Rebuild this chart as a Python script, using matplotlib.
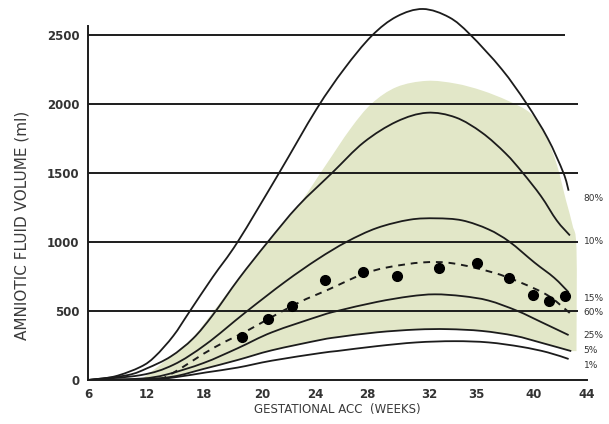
import matplotlib
matplotlib.use("Agg")
import matplotlib.pyplot as plt
from matplotlib.path import Path
from matplotlib.patches import PathPatch

plt.rcParams['font.family'] = ['DejaVu Sans']

# Percentile curves: gestational age (weeks) vs amniotic fluid volume (ml)
p80_w = [6, 8, 10, 11.1, 12.5, 13.7, 15.5, 17.4, 20.5, 23.4, 25.5, 27.6, 29.5, 31.5, 33.5, 35.1, 37.5, 39.4, 41, 42.2, 42.6]
p80_v = [0, 25, 95, 170, 320, 490, 745, 1000, 1490, 1960, 2250, 2490, 2630, 2685, 2625, 2500, 2250, 2000, 1750, 1500, 1370]

p10_w = [6, 9, 10.5, 12.3, 14, 15.5, 17.5, 19.7, 22, 24.6, 27, 29.5, 31.8, 34, 36, 37.8, 39.1, 40.5, 41.7, 42.7]
p10_v = [0, 35, 85, 170, 300, 470, 735, 1000, 1260, 1500, 1720, 1870, 1934, 1900, 1790, 1640, 1500, 1330, 1154, 1046]

p15_w = [6, 10, 12.5, 15, 18, 21, 23.5, 25.7, 28, 30.5, 32.5, 34.5, 36.5, 38.1, 40, 41.5, 42.6]
p15_v = [0, 35, 110, 260, 490, 710, 875, 1000, 1100, 1160, 1170, 1155, 1090, 1000, 850, 740, 635]

p60_w = [11.5, 13, 14.8, 16.5, 17.9, 19.7, 22.1, 24.2, 26.9, 28.8, 31.5, 33.8, 36.8, 38.9, 41, 42.5, 43]
p60_v = [0, 80, 190, 280, 345, 440, 563, 650, 765, 815, 851, 844, 779, 707, 613, 500, 460]

p25_w = [6, 10, 12, 14.8, 17.4, 20, 23.7, 25, 28, 30.5, 32.4, 34.5, 36.5, 38.7, 40.5, 42.6]
p25_v = [0, 10, 40, 123, 230, 345, 465, 500, 565, 605, 620, 607, 575, 500, 420, 325]

p5_w = [6, 10, 12.5, 14.8, 17.4, 20, 23.7, 25, 28, 31, 33.4, 36, 38.5, 40.5, 42.8]
p5_v = [0, 5, 25, 80, 145, 215, 290, 310, 345, 365, 368, 355, 320, 270, 209]

p1_w = [6, 11, 13, 15, 17.4, 20, 23.7, 25, 28, 31, 33.9, 36.5, 39, 41, 42.6]
p1_v = [0, 5, 25, 55, 90, 140, 195, 210, 245, 272, 281, 272, 240, 200, 152]

# Observed volumes
obs_w = [17.73, 19.71, 21.54, 24.05, 26.94, 29.53, 32.73, 35.63, 38.06, 39.89, 41.11, 42.33]
obs_v = [310, 440, 534, 722, 779, 750, 808, 844, 736, 613, 570, 606]

# Shaded normal range (upper boundary; lower boundary follows the 5% curve)
band_w = [10, 12.3, 14, 15.5, 17.5, 19.7, 22, 24, 26, 27.6, 29.5, 31.8, 34, 36, 38, 39.7, 40.8, 41.7, 42.4, 42.9, 43.2, 43.2]
band_v = [0, 170, 310, 490, 740, 1000, 1260, 1540, 1820, 2000, 2120, 2165, 2145, 2095, 2020, 1930, 1780, 1560, 1300, 1120, 950, 209]

y_ticks = [0, 500, 1000, 1500, 2000, 2500]
x_tick_pos = [6, 10.5, 14.8, 19.3, 23.3, 27.3, 32, 35.6, 39.9, 44]
x_tick_labels = ['6', '12', '18', '20', '24', '28', '32', '35', '40', '44']

curve_labels = ['80%', '10%', '15%', '60%', '25%', '5%', '1%']
label_y = [1310, 1000, 590, 485, 320, 215, 105]


def smooth_segments(xs, ys):
    """Catmull-Rom through the points, expressed as cubic Bezier segments."""
    pts = list(zip(xs, ys))
    verts, codes = [pts[0]], [Path.MOVETO]
    n = len(pts)
    for i in range(n - 1):
        p0 = pts[i - 1] if i > 0 else pts[i]
        p1 = pts[i]
        p2 = pts[i + 1]
        p3 = pts[i + 2] if i + 2 < n else pts[i + 1]
        c1 = (p1[0] + (p2[0] - p0[0]) / 6, p1[1] + (p2[1] - p0[1]) / 6)
        c2 = (p2[0] - (p3[0] - p1[0]) / 6, p2[1] - (p3[1] - p1[1]) / 6)
        verts += [c1, c2, p2]
        codes += [Path.CURVE4] * 3
    return verts, codes


fig = plt.figure(figsize=(6.09, 4.24), dpi=100)
ax = fig.add_axes([88 / 609, 1 - 380 / 424, (587 - 88) / 609, 380 / 424])
ax.set_xlim(6, 44)
ax.set_ylim(0, 2750)

line_col = '#1c1c1c'
text_col = '#333333'

# shaded band
uv, uc = smooth_segments(band_w, band_v)
lv, lc = smooth_segments(p5_w[::-1], p5_v[::-1])
lc[0] = Path.LINETO
verts = uv + lv + [uv[0]]
codes = uc + lc + [Path.CLOSEPOLY]
ax.add_patch(PathPatch(Path(verts, codes), facecolor='#e2e7c8', lw=0, zorder=1))

# horizontal grid lines
for v in y_ticks[1:]:
    end = 42.3 if v == 2500 else 43.3
    ax.plot([6, end], [v, v], color=line_col, lw=1.4, zorder=2, solid_capstyle='butt')

for w, v in [(p80_w, p80_v), (p10_w, p10_v), (p15_w, p15_v),
             (p25_w, p25_v), (p5_w, p5_v), (p1_w, p1_v)]:
    cv, cc = smooth_segments(w, v)
    ax.add_patch(PathPatch(Path(cv, cc), facecolor='none', edgecolor=line_col,
                           lw=1.3, zorder=3))

cv, cc = smooth_segments(p60_w, p60_v)
ax.add_patch(PathPatch(Path(cv, cc), facecolor='none', edgecolor=line_col,
                       lw=1.4, ls=(0, (3.5, 3)), zorder=3))
ax.plot(obs_w, obs_v, 'o', color='black', ms=7, zorder=4)

for lab, yv in zip(curve_labels, label_y):
    ax.text(43.75, yv, lab, fontsize=6.5, color=text_col, va='center', ha='left',
            clip_on=False)

for s in ['top', 'right']:
    ax.spines[s].set_visible(False)
ax.spines['left'].set_bounds(0, 2560)
ax.spines['left'].set_linewidth(1.4)
ax.spines['bottom'].set_linewidth(1.4)
ax.spines['left'].set_color(line_col)
ax.spines['bottom'].set_color(line_col)

ax.set_yticks(y_ticks)
ax.set_yticklabels([str(v) for v in y_ticks], fontsize=8.5, color=text_col,
                   fontweight='semibold')
ax.set_xticks(x_tick_pos)
ax.set_xticklabels(x_tick_labels, fontsize=8.5, color=text_col, fontweight='semibold')
ax.tick_params(axis='both', length=0)
ax.tick_params(axis='y', pad=6)
ax.tick_params(axis='x', pad=6)

fig.text(22 / 609, 1 - 225 / 424, 'AMNIOTIC FLUID VOLUME (ml)', rotation=90,
         fontsize=11, color='#3a3a3a', ha='center', va='center')
fig.text(337 / 609, 1 - 410 / 424, 'GESTATIONAL ACC  (WEEKS)', fontsize=8.5,
         color='#3a3a3a', ha='center', va='center')

fig.savefig('out.png', dpi=100)
